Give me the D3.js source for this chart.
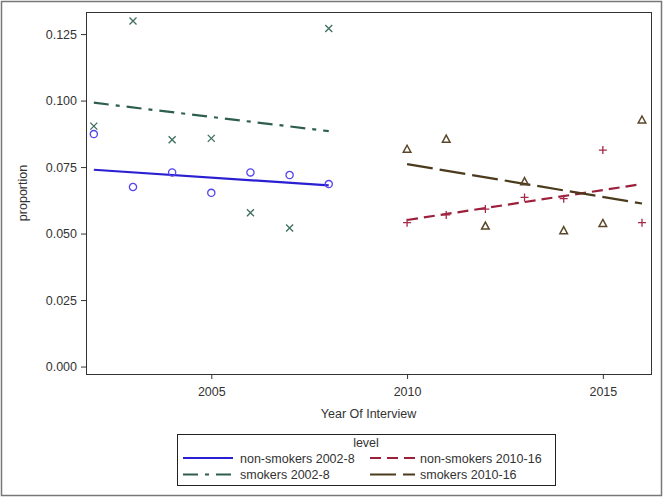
<!DOCTYPE html>
<html>
<head>
<meta charset="utf-8">
<script src="https://cdn.jsdelivr.net/npm/d3@7"></script>
<style>
  body { margin: 0; background: #fff; }
  text { font-family: "Liberation Sans", Arial, sans-serif; fill: #333; }
</style>
</head>
<body>
<script>
// observed proportions by year of interview
const years1 = [2002, 2003, 2004, 2005, 2006, 2007, 2008];
const years2 = [2010, 2011, 2012, 2013, 2014, 2015, 2016];
const nonSmokers1 = [0.0874, 0.0675, 0.0730, 0.0653, 0.0730, 0.0720, 0.0686];
const smokers1    = [0.0904, 0.1299, 0.0853, 0.0858, 0.0578, 0.0521, 0.1271];
const nonSmokers2 = [0.0541, 0.0570, 0.0592, 0.0636, 0.0631, 0.0814, 0.0541];
const smokers2    = [0.0817, 0.0855, 0.0528, 0.0695, 0.0511, 0.0538, 0.0927];

// fitted lines (value at first and last year)
const fitNon1 = [0.0740, 0.0681];
const fitSmk1 = [0.0992, 0.0885];
const fitNon2 = [0.0551, 0.0686];
const fitSmk2 = [0.0761, 0.0613];

const yTicks = [0, 0.025, 0.05, 0.075, 0.1, 0.125];
const xTicks = [2005, 2010, 2015];
const legendLabels = ["non-smokers 2002-8", "non-smokers 2010-16", "smokers 2002-8", "smokers 2010-16"];

const W = 664, H = 498;
const margin = {top: 12, right: 13, bottom: 124, left: 86};

const svg = d3.select("body").append("svg")
  .attr("width", W)
  .attr("height", H);

// outer frame
svg.append("rect")
  .attr("x", 1.5).attr("y", 1.5)
  .attr("width", 660).attr("height", 494)
  .attr("fill", "none").attr("stroke", "#777").attr("stroke-width", 1.5);

const x = d3.scaleLinear().domain([2001.8, 2016.23]).range([margin.left, W - margin.right]);
const y = d3.scaleLinear().domain([-0.0028, 0.1333]).range([H - margin.bottom, margin.top]);

const g = svg.append("g");

// axes
const xAxis = g.append("g")
  .attr("transform", "translate(0," + (H - margin.bottom) + ")")
  .call(d3.axisBottom(x).tickValues(xTicks).tickFormat(d3.format("d")).tickSizeOuter(0).tickSize(5).tickPadding(8));
const yAxis = g.append("g")
  .attr("transform", "translate(" + margin.left + ",0)")
  .call(d3.axisLeft(y).tickValues(yTicks).tickFormat(d3.format(".3f")).tickSizeOuter(0).tickSize(5).tickPadding(4));

[xAxis, yAxis].forEach(a => {
  a.select(".domain").remove();
  a.selectAll(".tick line").attr("stroke", "#333");
  a.selectAll("text").attr("font-size", 12.5).attr("fill", "#333")
    .attr("font-family", "'Liberation Sans', Arial, sans-serif");
});

// plot frame
g.append("rect")
  .attr("x", margin.left + 0.5).attr("y", margin.top + 0.5)
  .attr("width", W - margin.right - margin.left)
  .attr("height", H - margin.bottom - margin.top)
  .attr("fill", "none").attr("stroke", "#333").attr("stroke-width", 1);

// axis titles
svg.append("text")
  .attr("x", (margin.left + W - margin.right) / 2)
  .attr("y", 418)
  .attr("text-anchor", "middle")
  .attr("font-size", 12.5)
  .text("Year Of Interview");
svg.append("text")
  .attr("transform", "translate(27," + ((margin.top + H - margin.bottom) / 2) + ") rotate(-90)")
  .attr("text-anchor", "middle")
  .attr("font-size", 12.5)
  .text("proportion");

const series = [
  {name: legendLabels[0], years: years1, vals: nonSmokers1, fit: fitNon1, line: "#2a1fd1", mark: "#5444ee", dash: null, sym: "circle"},
  {name: legendLabels[1], years: years2, vals: nonSmokers2, fit: fitNon2, line: "#9c1f3c", mark: "#a52a48", dash: "11,6", sym: "plus"},
  {name: legendLabels[2], years: years1, vals: smokers1, fit: fitSmk1, line: "#2d5e50", mark: "#3e6e60", dash: "15,7,4,7", sym: "x"},
  {name: legendLabels[3], years: years2, vals: smokers2, fit: fitSmk2, line: "#4b3a1c", mark: "#5a4628", dash: "26,7", sym: "triangle"}
];

// fitted lines
const line = d3.line().x(d => x(d[0])).y(d => y(d[1]));
series.forEach(s => {
  const pts = [[s.years[0], s.fit[0]], [s.years[s.years.length - 1], s.fit[1]]];
  g.append("path")
    .attr("d", line(pts))
    .attr("fill", "none")
    .attr("stroke", s.line)
    .attr("stroke-width", 2.2)
    .attr("stroke-dasharray", s.dash);
});

// markers
function drawMarker(sel, sym, color) {
  if (sym === "circle") {
    sel.append("circle").attr("r", 3.6).attr("fill", "none").attr("stroke", color).attr("stroke-width", 1.3);
  } else if (sym === "plus") {
    sel.append("path").attr("d", "M-4,0H4M0,-4V4").attr("stroke", color).attr("stroke-width", 1.3);
  } else if (sym === "x") {
    sel.append("path").attr("d", "M-3.5,-3.5L3.5,3.5M-3.5,3.5L3.5,-3.5").attr("stroke", color).attr("stroke-width", 1.3);
  } else {
    sel.append("path").attr("d", "M0,-4L3.8,3L-3.8,3Z").attr("fill", "none").attr("stroke", color).attr("stroke-width", 1.5);
  }
}
series.forEach(s => {
  s.vals.forEach((v, i) => {
    const m = g.append("g").attr("transform", "translate(" + x(s.years[i]) + "," + y(v) + ")");
    drawMarker(m, s.sym, s.mark);
  });
});

// legend
const lg = svg.append("g");
lg.append("rect")
  .attr("x", 177.5).attr("y", 434.5).attr("width", 378).attr("height", 51)
  .attr("fill", "#fff").attr("stroke", "#222").attr("stroke-width", 1);
lg.append("text")
  .attr("x", 366).attr("y", 447)
  .attr("text-anchor", "middle").attr("font-size", 12.5)
  .text("level");
const cols = [183, 370];
series.forEach((s, i) => {
  const cx = cols[i % 2];
  const cy = 458 + Math.floor(i / 2) * 16.5;
  lg.append("line")
    .attr("x1", cx).attr("x2", cx + (i % 2 ? 45 : 50))
    .attr("y1", cy).attr("y2", cy)
    .attr("stroke", s.line).attr("stroke-width", 2.2)
    .attr("stroke-dasharray", s.dash);
  lg.append("text")
    .attr("x", cx + (i % 2 ? 50 : 57)).attr("y", cy + 4.5)
    .attr("font-size", 12.5)
    .text(s.name);
});
</script>
</body>
</html>
